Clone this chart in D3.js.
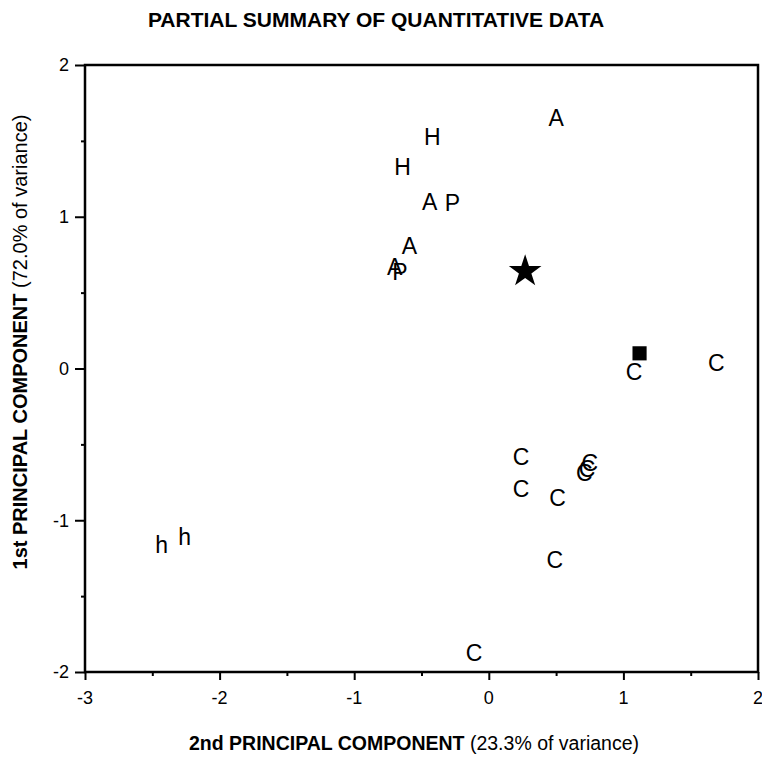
<!DOCTYPE html>
<html>
<head>
<meta charset="utf-8">
<script src="https://cdn.jsdelivr.net/npm/d3@7"></script>
<style>
  body { margin: 0; background: #fff; }
  svg { font-family: "Liberation Sans", Arial, sans-serif; }
</style>
</head>
<body>
<div id="chart-area"></div>
<script>
// chart size
width = 762;
height = 758

// point symbols and their positions (2nd PC on x, 1st PC on y)
let labels = ["A", "H", "H", "A", "P", "A", "A", "P", "star", "square",
  "C", "C", "C", "C", "C", "C", "C", "C", "C", "C", "h", "h"]
let pc2 = [0.50, -0.42, -0.64, -0.44, -0.27, -0.59, -0.70, -0.66, 0.27, 1.12,
  1.08, 1.69, 0.24, 0.75, 0.73, 0.71, 0.24, 0.51, 0.49, -0.11, -2.43, -2.26]
let pc1 = [1.65, 1.53, 1.33, 1.10, 1.09, 0.81, 0.67, 0.64, 0.64, 0.10,
  -0.02, 0.04, -0.58, -0.62, -0.66, -0.69, -0.79, -0.85, -1.26, -1.87, -1.16, -1.11]

let xTicks = [-3, -2, -1, 0, 1, 2]
let yTicks = [-2, -1, 0, 1, 2]

let data = labels.map((l, i) => ({ label: l, x: pc2[i], y: pc1[i] }))

// plot box
let boxLeft = 85, boxRight = 758, boxTop = 65, boxBottom = 672

let xScale = d3.scaleLinear().domain([-3, 2]).range([boxLeft, boxRight])
let yScale = d3.scaleLinear().domain([-2, 2]).range([boxBottom, boxTop])

svg = d3.select("#chart-area")
  .append("svg")
  .attr("width", width)
  .attr("height", height)

// title
svg.append("text")
  .attr("x", 376)
  .attr("y", 27)
  .attr("text-anchor", "middle")
  .attr("font-size", 21)
  .attr("font-weight", "bold")
  .text("PARTIAL SUMMARY OF QUANTITATIVE DATA")

// axes: tick marks from d3, major ticks + minor ticks at halves
let gx = svg.append("g")
  .attr("transform", "translate(0," + boxBottom + ")")
  .call(d3.axisBottom(xScale).tickValues(xTicks).tickFormat("").tickSize(8))
gx.select(".domain").remove()

let gy = svg.append("g")
  .attr("transform", "translate(" + boxLeft + ",0)")
  .call(d3.axisLeft(yScale).tickValues(yTicks).tickFormat("").tickSize(10))
gy.select(".domain").remove()

svg.append("g")
  .attr("transform", "translate(0," + boxBottom + ")")
  .call(d3.axisBottom(xScale).tickValues([-2.5, -1.5, -0.5, 0.5, 1.5]).tickFormat("").tickSize(4))
  .select(".domain").remove()

svg.append("g")
  .attr("transform", "translate(" + boxLeft + ",0)")
  .call(d3.axisLeft(yScale).tickValues([-1.5, -0.5, 0.5, 1.5]).tickFormat("").tickSize(4))
  .select(".domain").remove()

svg.selectAll(".tick line").attr("stroke", "#000").attr("stroke-width", 2)

// tick labels (plain hyphen for negatives, like the original)
svg.selectAll(".xlab")
  .data(xTicks)
  .enter().append("text")
  .attr("class", "xlab")
  .attr("x", d => xScale(d))
  .attr("y", 704)
  .attr("text-anchor", "middle")
  .attr("font-size", 18)
  .text(d => String(d))

svg.selectAll(".ylab")
  .data(yTicks)
  .enter().append("text")
  .attr("class", "ylab")
  .attr("x", 69)
  .attr("y", d => yScale(d))
  .attr("dy", "0.36em")
  .attr("text-anchor", "end")
  .attr("font-size", 18)
  .text(d => String(d))

// frame
svg.append("rect")
  .attr("x", boxLeft)
  .attr("y", boxTop)
  .attr("width", boxRight - boxLeft)
  .attr("height", boxBottom - boxTop)
  .attr("fill", "none")
  .attr("stroke", "#000")
  .attr("stroke-width", 2.5)

// points
let letters = data.filter(d => d.label.length === 1)

svg.selectAll(".pt")
  .data(letters)
  .enter().append("text")
  .attr("class", "pt")
  .attr("x", d => xScale(d.x))
  .attr("y", d => yScale(d.y))
  .attr("dy", "0.36em")
  .attr("text-anchor", "middle")
  .attr("font-size", 23)
  .text(d => d.label)

let star = data.filter(d => d.label === "star")
svg.selectAll(".star")
  .data(star)
  .enter().append("path")
  .attr("class", "star")
  .attr("transform", d => "translate(" + xScale(d.x) + "," + yScale(d.y) + ")")
  .attr("d", d3.symbol().type(d3.symbolStar).size(330))
  .attr("fill", "#000")

let sq = data.filter(d => d.label === "square")
svg.selectAll(".sq")
  .data(sq)
  .enter().append("path")
  .attr("class", "sq")
  .attr("transform", d => "translate(" + xScale(d.x) + "," + yScale(d.y) + ")")
  .attr("d", d3.symbol().type(d3.symbolSquare).size(200))
  .attr("fill", "#000")

// axis titles
let xt = svg.append("text")
  .attr("x", 414)
  .attr("y", 750)
  .attr("text-anchor", "middle")
  .attr("font-size", 19.5)
xt.append("tspan").attr("font-weight", "bold").text("2nd PRINCIPAL COMPONENT ")
xt.append("tspan").text("(23.3% of variance)")

let yt = svg.append("text")
  .attr("transform", "translate(27," + 342 + ") rotate(-90)")
  .attr("text-anchor", "middle")
  .attr("font-size", 20)
yt.append("tspan").attr("font-weight", "bold").text("1st PRINCIPAL COMPONENT ")
yt.append("tspan").text("(72.0% of variance)")
</script>
</body>
</html>
